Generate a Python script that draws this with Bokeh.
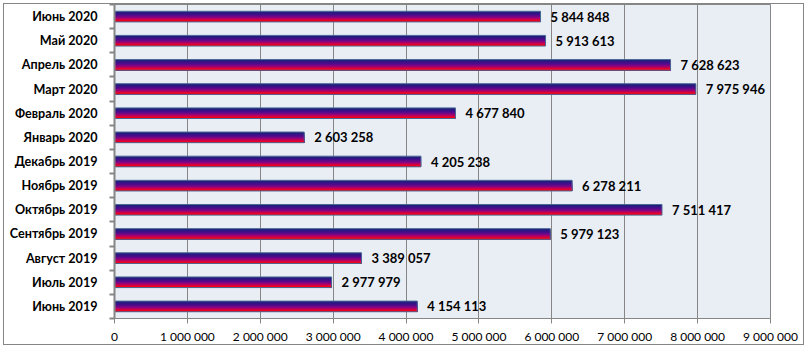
import numpy as np
from bokeh.plotting import figure
from bokeh.models import ColumnDataSource, Range1d, FixedTicker
from bokeh.transform import dodge
from bokeh.core.properties import value
from bokeh.embed import file_html
from bokeh.resources import INLINE

# Data (chronological, bottom to top)
months = ["Июнь 2019", "Июль 2019", "Август 2019", "Сентябрь 2019", "Октябрь 2019",
          "Ноябрь 2019", "Декабрь 2019", "Январь 2020", "Февраль 2020", "Март 2020",
          "Апрель 2020", "Май 2020", "Июнь 2020"]
amounts = [4154113, 2977979, 3389057, 5979123, 7511417, 6278211, 4205238,
           2603258, 4677840, 7975946, 7628623, 5913613, 5844848]
x_ticks = [0, 1000000, 2000000, 3000000, 4000000, 5000000, 6000000, 7000000, 8000000, 9000000]


def fmt(v):
    return f"{v:,}".replace(",", " ")


ypos = list(range(len(months)))
src = ColumnDataSource(dict(y=ypos, v=amounts, lab=[fmt(a) for a in amounts]))

FONT = value("Lato")
GRAY = "#868686"

p = figure(width=801, height=342, output_backend="svg", toolbar_location=None,
           x_range=Range1d(0, 9000000), y_range=Range1d(-0.5, len(months) - 0.5),
           min_border_left=110, min_border_right=35, min_border_top=0, min_border_bottom=26)
p.margin = (3, 0, 0, 3)
p.styles = {"border": "1px solid #868686"}
p.background_fill_color = "#E9EDF4"
p.border_fill_color = "white"
p.outline_line_color = GRAY
p.outline_line_width = 1

# gradient bar made from layered bars, all sharing the bottom edge
bar_h = 0.44
n = 14


def lerp(c1, c2, t):
    a = [int(c1[i:i + 2], 16) for i in (1, 3, 5)]
    b = [int(c2[i:i + 2], 16) for i in (1, 3, 5)]
    return "#%02x%02x%02x" % tuple(int(round(a[j] + (b[j] - a[j]) * t)) for j in range(3))


stops = [(0.0, "#1a1f7a"), (0.35, "#4a0c8c"), (0.6, "#8a0580"), (0.85, "#e0003a"), (1.0, "#ff0000")]


def grad(t):
    for (t0, c0), (t1, c1) in zip(stops[:-1], stops[1:]):
        if t <= t1:
            return lerp(c0, c1, (t - t0) / (t1 - t0))
    return stops[-1][1]


sh = bar_h / n
for k in range(n):
    h = bar_h - k * sh
    off = -bar_h / 2 + h / 2
    p.hbar(y=dodge("y", off), right="v", left=0, height=h, source=src,
           fill_color=grad(k / (n - 1)), line_color=None)
p.hbar(y="y", right="v", left=0, height=bar_h, source=src,
       fill_color=None, line_color="#4a6896", line_width=1)

p.text(x="v", y="y", text="lab", source=src, x_offset=10, text_baseline="middle",
       text_align="left", text_font=FONT, text_font_style="bold",
       text_font_size="13px", text_color="black")

# x axis
p.xaxis.ticker = FixedTicker(ticks=x_ticks, minor_ticks=[])
p.xaxis.major_label_overrides = {t: fmt(t) for t in x_ticks}
p.xaxis.major_label_text_font = "Lato"
p.xaxis.major_label_text_font_size = "12px"
p.xaxis.major_label_text_color = "black"
p.xaxis.axis_line_color = GRAY
p.xaxis.major_tick_line_color = GRAY
p.xaxis.major_tick_out = 5
p.xaxis.major_tick_in = 0
p.xaxis.major_label_standoff = 5

# y axis
p.yaxis.ticker = FixedTicker(ticks=ypos, minor_ticks=[i - 0.5 for i in range(len(months) + 1)])
p.yaxis.major_label_overrides = {i: m for i, m in zip(ypos, months)}
p.yaxis.major_label_text_font = "Lato"
p.yaxis.major_label_text_font_style = "bold"
p.yaxis.major_label_text_font_size = "12.6px"
p.yaxis.major_label_text_color = "black"
p.yaxis.axis_line_color = GRAY
p.yaxis.axis_line_width = 2
p.yaxis.major_tick_line_color = None
p.yaxis.major_tick_out = 0
p.yaxis.major_tick_in = 0
p.yaxis.minor_tick_line_color = GRAY
p.yaxis.minor_tick_line_width = 2
p.yaxis.minor_tick_out = 5
p.yaxis.minor_tick_in = 0
p.yaxis.major_label_standoff = 12

p.xgrid.ticker = FixedTicker(ticks=x_ticks)
p.xgrid.grid_line_color = GRAY
p.xgrid.grid_line_width = 1
p.ygrid.grid_line_color = None

open("out.html", "w").write(file_html(p, INLINE))
